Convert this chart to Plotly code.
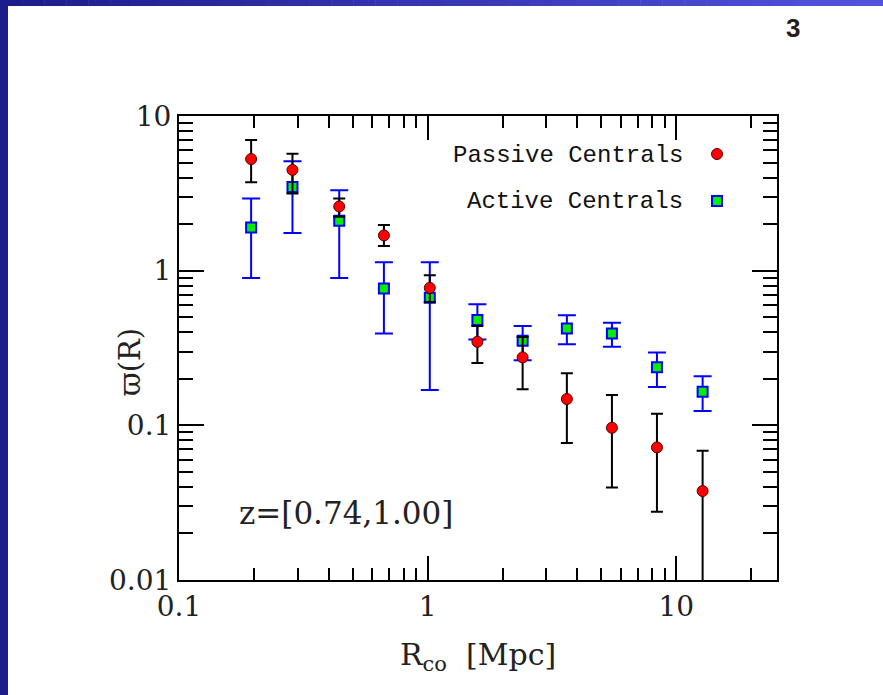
import plotly.graph_objects as go

# ---- data ----
r_mpc = [0.195, 0.286, 0.441, 0.667, 1.02, 1.585, 2.41, 3.63, 5.51, 8.36, 12.76]

passive_w = [5.27, 4.48, 2.60, 1.69, 0.774, 0.347, 0.275, 0.148, 0.0964, 0.072, 0.0376]
passive_hi = [7.0, 5.71, 2.93, 1.97, 0.935, 0.438, 0.373, 0.217, 0.157, 0.119, 0.0685]
passive_lo = [3.73, 3.16, 2.23, 1.445, 0.628, 0.253, 0.171, 0.077, 0.0397, 0.0276, 0.0005]

active_w = [1.90, 3.48, 2.10, 0.767, 0.667, 0.479, 0.352, 0.423, 0.393, 0.237, 0.165]
active_hi = [2.93, 5.10, 3.31, 1.135, 1.135, 0.607, 0.438, 0.515, 0.460, 0.296, 0.208]
active_lo = [0.898, 1.75, 0.898, 0.393, 0.169, 0.359, 0.264, 0.335, 0.322, 0.177, 0.124]

x_tickvals = [0.1, 1, 10]
x_ticktext = ["0.1", "1", "10"]
y_tickvals = [0.01, 0.1, 1, 10]
y_ticktext = ["0.01", "0.1", "1", "10"]

legend_labels = ["Passive Centrals", "Active Centrals"]
panel_label = "z=[0.74,1.00]"

# ---- geometry ----
W, H = 883, 695
L, R, T, B = 179, 777, 116, 580
pw, ph = R - L, B - T


def px(xp):
    return (xp - L) / pw


def py(yp):
    return (B - yp) / ph


fig = go.Figure()

fig.add_trace(go.Scatter(
    x=r_mpc, y=active_w, mode="markers", showlegend=False,
    marker=dict(symbol="square", size=10, color="#00ee00",
                line=dict(color="#0000ff", width=2)),
    error_y=dict(type="data", symmetric=False,
                 array=[h - v for h, v in zip(active_hi, active_w)],
                 arrayminus=[v - lo for v, lo in zip(active_w, active_lo)],
                 color="#0000ff", thickness=2, width=9),
))

fig.add_trace(go.Scatter(
    x=r_mpc, y=passive_w, mode="markers", showlegend=False,
    marker=dict(symbol="circle", size=11, color="#ff0000",
                line=dict(color="#550000", width=1)),
    error_y=dict(type="data", symmetric=False,
                 array=[h - v for h, v in zip(passive_hi, passive_w)],
                 arrayminus=[v - lo for v, lo in zip(passive_w, passive_lo)],
                 color="#000000", thickness=2, width=6),
))

shapes = []
# slide background strips
shapes.append(dict(type="rect", xref="paper", yref="paper", layer="below",
                   x0=px(0), x1=px(8), y0=py(H), y1=py(0),
                   fillcolor="#1c1c8a", line=dict(width=0)))
n = 40
c0 = (0x1c, 0x1c, 0x8a)
c1 = (0x52, 0x52, 0xdd)
for i in range(n):
    t = i / (n - 1)
    c = tuple(int(round(a + (b - a) * t)) for a, b in zip(c0, c1))
    shapes.append(dict(type="rect", xref="paper", yref="paper", layer="below",
                       x0=px(W * i / n), x1=px(W * (i + 1) / n + 0.5),
                       y0=py(6), y1=py(0),
                       fillcolor="rgb(%d,%d,%d)" % c, line=dict(width=0)))
# legend symbols
sym_x = px(717)
shapes.append(dict(type="circle", xref="paper", yref="paper",
                   xsizemode="pixel", ysizemode="pixel",
                   xanchor=sym_x, yanchor=py(154),
                   x0=-5.5, x1=5.5, y0=-5.5, y1=5.5,
                   fillcolor="#ff0000", line=dict(color="#550000", width=1)))
shapes.append(dict(type="rect", xref="paper", yref="paper",
                   xsizemode="pixel", ysizemode="pixel",
                   xanchor=sym_x, yanchor=py(201),
                   x0=-5, x1=5, y0=-5, y1=5,
                   fillcolor="#00ee00", line=dict(color="#0000ff", width=2)))

annotations = [
    dict(text=legend_labels[0], xref="paper", yref="paper", x=px(685), y=py(155),
         xanchor="right", yanchor="middle", showarrow=False,
         font=dict(family="Liberation Mono", size=24, color="#111111")),
    dict(text=legend_labels[1], xref="paper", yref="paper", x=px(685), y=py(202),
         xanchor="right", yanchor="middle", showarrow=False,
         font=dict(family="Liberation Mono", size=24, color="#111111")),
    dict(text=panel_label, xref="paper", yref="paper", x=px(237), y=py(513),
         xanchor="left", yanchor="middle", showarrow=False,
         font=dict(family="DejaVu Serif", size=31, color="#222222")),
    dict(text="R<sub>co</sub>  [Mpc]", xref="paper", yref="paper", x=0.5, y=py(656),
         xanchor="center", yanchor="middle", showarrow=False,
         font=dict(family="DejaVu Serif", size=30, color="#222222")),
    dict(text="ϖ(R)", xref="paper", yref="paper", x=px(130), y=py(362),
         xanchor="center", yanchor="middle", showarrow=False, textangle=-90,
         font=dict(family="DejaVu Serif", size=29, color="#222222")),
    dict(text="<b>3</b>", xref="paper", yref="paper", x=px(793), y=py(28),
         xanchor="center", yanchor="middle", showarrow=False,
         font=dict(family="Liberation Sans Narrow, Liberation Sans", size=26, color="#2a1a1a")),
]

axis_common = dict(
    type="log", showgrid=False, zeroline=False,
    showline=True, linecolor="black", linewidth=2, mirror="ticks",
    ticks="inside", tickcolor="black", tickwidth=2,
    tickfont=dict(family="DejaVu Serif", size=28, color="#222222"),
)

fig.update_layout(
    width=W, height=H,
    margin=dict(l=L, r=W - R, t=T, b=H - B),
    paper_bgcolor="white", plot_bgcolor="white",
    xaxis=dict(**axis_common, range=[-1, 1.405], tickvals=x_tickvals, ticktext=x_ticktext,
               ticklen=24,
               minor=dict(ticks="inside", ticklen=12, tickwidth=2, tickcolor="black", dtick="D1")),
    yaxis=dict(**axis_common, range=[-2, 1], tickvals=y_tickvals, ticktext=y_ticktext,
               ticklen=25,
               minor=dict(ticks="inside", ticklen=14, tickwidth=2, tickcolor="black", dtick="D1")),
    shapes=shapes,
    annotations=annotations,
)

fig.write_html("out.html")
